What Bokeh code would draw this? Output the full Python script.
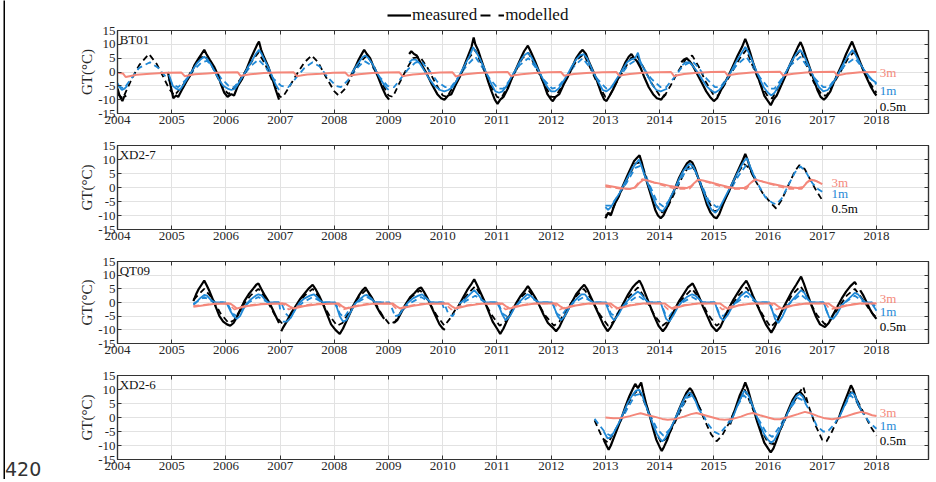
import math
from bokeh.plotting import figure
from bokeh.models import Range1d, FixedTicker, LinearAxis, Label, Legend, LegendItem, Spacer, Div
from bokeh.layouts import column, row
from bokeh.embed import file_html
from bokeh.resources import INLINE

GAP = None
YEARS = list(range(2004, 2019))
YEAR_LABELS = [str(y) for y in YEARS]
YTICKS = [-15, -10, -5, 0, 5, 10, 15]
YTICK_LABELS = ["-15", "-10", "-5", "0", "5", "10", "15"]
SITES = ["BT01", "XD2-7", "QT09", "XD2-6"]
DEPTHS = ["3m", "1m", "0.5m"]
LEGEND_LABELS = ["measured", "modelled"]
PAGE_NOTE = "420"

# ---------------- BT01 ----------------
BT01_MEAS_05 = [(2004.00,-6),(2004.03,-8),(2004.06,-9.5),(2004.09,-10.5),(2004.12,-9),(2004.16,-8.5),GAP,
 (2004.93,0),(2004.98,-5),(2005.03,-9.5),(2005.08,-8.5),(2005.12,-9),(2005.2,-6),(2005.27,-3.5),(2005.35,-1),(2005.42,2.5),(2005.5,5),(2005.55,6.5),(2005.6,8),(2005.64,6.5),(2005.7,4.5),(2005.78,2),(2005.85,-1),(2005.92,-5),(2005.97,-7.5),(2006.03,-9),(2006.1,-8),(2006.15,-8.5),(2006.22,-5),(2006.3,-2.5),(2006.38,1),(2006.45,4.5),(2006.52,7.5),(2006.58,10),(2006.61,11),(2006.65,8),(2006.7,5.5),(2006.78,2),(2006.85,-2),(2006.92,-6.5),(2006.98,-10),GAP,
 (2008.3,-1.5),(2008.38,1.5),(2008.45,4.5),(2008.52,7),(2008.55,8),(2008.6,6.5),(2008.66,5),(2008.73,1.5),(2008.8,-1.5),(2008.88,-5.5),(2008.95,-8.5),(2009.01,-10),GAP,
 (2009.38,6.5),(2009.42,7.5),(2009.47,6.5),(2009.52,6),(2009.6,3),(2009.7,-0.5),(2009.8,-4.5),(2009.9,-8),(2009.97,-9.5),(2010.03,-10),(2010.1,-8.5),(2010.16,-8),(2010.23,-5),(2010.32,-1.5),(2010.4,2.5),(2010.47,6),(2010.53,9),(2010.57,12.5),(2010.6,10),(2010.65,8),(2010.7,5),(2010.77,1),(2010.83,-3),(2010.9,-7),(2010.96,-10),(2011.01,-11.5),(2011.06,-10),(2011.12,-9),(2011.2,-6),(2011.28,-2),(2011.36,1.5),(2011.44,5),(2011.5,7.5),(2011.57,9.5),(2011.62,7.5),(2011.7,4),(2011.78,0),(2011.86,-4),(2011.93,-8),(2012.0,-10),(2012.03,-10.5),(2012.08,-9),(2012.15,-8),(2012.23,-4.5),(2012.3,-2),(2012.38,1.5),(2012.46,5),(2012.53,7),(2012.58,8),(2012.64,6.5),(2012.7,3.5),(2012.78,0),(2012.85,-3.5),(2012.92,-7.5),(2012.98,-10),(2013.02,-10.5),(2013.08,-8.5),(2013.15,-6),(2013.22,-3),(2013.3,0.5),(2013.37,3.5),(2013.43,5.5),(2013.48,6.5),(2013.53,5),(2013.58,4),(2013.65,1.5),(2013.72,-2),(2013.8,-5.5),(2013.88,-8),(2013.95,-9.5),(2014.03,-10),(2014.08,-8.5),(2014.12,-8),GAP,
 (2014.4,3.5),(2014.45,4.5),(2014.5,5),(2014.55,4),(2014.62,2),(2014.7,-1),(2014.78,-4),(2014.86,-7),(2014.93,-9),(2015.0,-10.5),(2015.06,-9.5),(2015.12,-7),(2015.2,-4),(2015.28,-1),(2015.36,2.5),(2015.44,6),(2015.52,9),(2015.58,12),(2015.62,10),(2015.67,7),(2015.73,3),(2015.8,-1),(2015.87,-5),(2015.93,-8.5),(2016.0,-10.5),(2016.05,-12),(2016.1,-10),(2016.16,-8.5),(2016.24,-5),(2016.32,-1.5),(2016.4,2.5),(2016.48,6),(2016.55,9),(2016.6,10.8),(2016.64,9),(2016.7,5.5),(2016.77,1.5),(2016.84,-2.5),(2016.91,-6.5),(2016.97,-9),(2017.03,-10),(2017.08,-9),(2017.15,-7),(2017.22,-3.5),(2017.3,0),(2017.37,3),(2017.44,6.5),(2017.5,9),(2017.55,11),(2017.59,9),(2017.64,6.5),(2017.7,3.5),(2017.77,0),(2017.84,-3),(2017.9,-5.5),(2017.96,-7.5),(2018.0,-8.5)]

BT01_MEAS_1 = [(2004.0,-4),(2004.04,-5.5),(2004.08,-6.5),(2004.13,-6),(2004.18,-5),GAP,
 (2004.95,-1),(2005.02,-5),(2005.08,-6),(2005.15,-6.5),(2005.22,-4.5),(2005.3,-2),(2005.38,0.5),(2005.46,3),(2005.53,4.5),(2005.6,5.5),(2005.66,4.5),(2005.73,2.5),(2005.8,0),(2005.88,-3),(2005.95,-5),(2006.03,-6),(2006.1,-6.5),(2006.17,-6),(2006.25,-3.5),(2006.33,-1),(2006.4,1.5),(2006.48,4),(2006.55,6.5),(2006.61,8),(2006.66,6.5),(2006.72,4),(2006.8,1),(2006.87,-2.5),(2006.93,-5),(2006.98,-6.5),GAP,
 (2008.32,-0.5),(2008.4,2),(2008.47,4),(2008.53,5.5),(2008.57,6),(2008.63,5),(2008.7,3),(2008.78,0),(2008.85,-2.5),(2008.93,-5),(2009.0,-6.5),GAP,
 (2009.38,3.5),(2009.44,4.5),(2009.5,4.5),(2009.58,3),(2009.66,0.5),(2009.75,-2.5),(2009.85,-5),(2009.95,-6.5),(2010.03,-7),(2010.1,-6.5),(2010.18,-5.5),(2010.26,-3),(2010.34,0),(2010.42,3),(2010.5,6),(2010.56,9),(2010.62,7),(2010.68,5),(2010.75,2),(2010.83,-1.5),(2010.9,-4.5),(2010.97,-7),(2011.04,-7.5),(2011.1,-7),(2011.18,-5),(2011.26,-2),(2011.35,1),(2011.43,4),(2011.5,6),(2011.57,7),(2011.63,5.5),(2011.7,3),(2011.78,0),(2011.86,-3),(2011.93,-5.5),(2012.0,-7),(2012.07,-7),(2012.14,-6),(2012.22,-3.5),(2012.3,-1),(2012.38,2),(2012.46,4.5),(2012.53,6),(2012.6,6.5),(2012.66,5),(2012.73,2),(2012.8,-1),(2012.88,-4),(2012.95,-6.5),(2013.02,-7),(2013.09,-6),(2013.16,-4),(2013.24,-1.5),(2013.32,1),(2013.4,3.5),(2013.47,4.5),(2013.55,5),(2013.6,7),(2013.64,4),(2013.7,1.5),(2013.78,-1.5),(2013.86,-4.5),(2013.94,-6.5),(2014.02,-7),(2014.08,-6.5),(2014.14,-6),GAP,
 (2014.42,2.5),(2014.48,3.5),(2014.55,3.5),(2014.62,2),(2014.7,0),(2014.78,-2.5),(2014.86,-5),(2014.94,-6.5),(2015.02,-7.5),(2015.1,-6.5),(2015.18,-4.5),(2015.26,-2),(2015.34,1),(2015.42,4),(2015.5,6.5),(2015.58,9),(2015.63,7.5),(2015.7,4.5),(2015.77,1),(2015.85,-2.5),(2015.92,-5.5),(2016.0,-7.5),(2016.06,-8.5),(2016.12,-7.5),(2016.2,-5),(2016.28,-2),(2016.36,1),(2016.44,4),(2016.52,6.5),(2016.59,8),(2016.65,6.5),(2016.72,3.5),(2016.8,0),(2016.87,-3),(2016.94,-5.5),(2017.02,-7),(2017.1,-6.5),(2017.18,-4.5),(2017.26,-2),(2017.34,1),(2017.42,4),(2017.5,6.5),(2017.56,8),(2017.62,6),(2017.7,3),(2017.78,0.5),(2017.86,-1.5),(2017.93,-3),(2018.0,-4)]

BT01_MEAS_3 = [(2004.0,-0.3),(2004.1,-0.5),(2004.15,-1.8),(2004.22,-1.5),(2004.35,-1.0),(2004.6,-0.6),(2004.9,-0.3),
 (2005.18,-0.2),(2005.24,-1.5),(2005.3,-1.3),(2005.42,-0.8),(2005.65,-0.5),(2005.9,-0.2),
 (2006.22,-0.1),(2006.27,-1.4),(2006.33,-1.2),(2006.45,-0.8),(2006.7,-0.4),(2006.95,-0.2),
 (2007.25,-0.1),(2007.31,-1.5),(2007.38,-1.3),(2007.5,-0.9),(2007.75,-0.6),(2007.98,-0.3),
 (2008.2,-0.2),(2008.26,-1.4),(2008.32,-1.2),(2008.45,-0.8),(2008.7,-0.4),(2008.95,-0.2),
 (2009.2,-0.1),(2009.26,-1.5),(2009.33,-1.3),(2009.45,-0.9),(2009.7,-0.5),(2009.95,-0.2),
 (2010.18,-0.1),(2010.24,-1.6),(2010.3,-1.3),(2010.42,-0.8),(2010.65,-0.4),(2010.95,-0.1),
 (2011.2,0),(2011.26,-1.5),(2011.32,-1.2),(2011.45,-0.8),(2011.7,-0.4),(2011.95,-0.1),
 (2012.18,0),(2012.24,-1.4),(2012.3,-1.1),(2012.42,-0.7),(2012.65,-0.4),(2012.95,-0.1),
 (2013.2,0),(2013.26,-1.4),(2013.32,-1.1),(2013.45,-0.7),(2013.7,-0.3),(2013.95,-0.1),
 (2014.21,0),(2014.27,-1.6),(2014.33,-1.2),(2014.45,-0.7),(2014.7,-0.3),(2014.95,0),
 (2015.2,0.1),(2015.26,-1.3),(2015.32,-1.0),(2015.45,-0.6),(2015.7,-0.2),(2015.95,0),
 (2016.22,0.1),(2016.28,-1.3),(2016.34,-1.0),(2016.47,-0.6),(2016.7,-0.2),(2016.95,0),
 (2017.22,0.1),(2017.28,-1.3),(2017.34,-1.0),(2017.47,-0.5),(2017.7,-0.1),(2018.0,0)]

BT01_MOD_05 = [(2004.0,-8),(2004.1,-9.5),(2004.25,-3),(2004.4,2.5),(2004.58,6.5),(2004.72,3),(2004.85,-2),(2004.95,-6),(2005.05,-8.5),(2005.2,-5),(2005.35,0),(2005.5,4.5),(2005.6,6),(2005.72,3),(2005.85,-2),(2005.95,-6),(2006.05,-8),(2006.2,-4.5),(2006.35,0),(2006.5,4.5),(2006.6,7),(2006.72,3),(2006.85,-3),(2007.0,-9),(2007.05,-9),(2007.15,-6),(2007.3,-1),(2007.45,3.5),(2007.58,6),(2007.7,3.5),(2007.85,-2),(2008.0,-7),(2008.08,-8.5),(2008.2,-6),(2008.33,-1),(2008.47,3.5),(2008.6,6),(2008.72,2.5),(2008.85,-3),(2009.0,-8.5),(2009.08,-9),(2009.2,-4),(2009.33,1),(2009.45,5),(2009.58,5.5),(2009.72,1.5),(2009.85,-3.5),(2010.0,-8.5),(2010.08,-9),(2010.2,-5),(2010.35,0),(2010.48,5),(2010.6,8),(2010.72,2.5),(2010.85,-3.5),(2011.0,-9),(2011.08,-9.5),(2011.2,-5),(2011.35,0.5),(2011.47,5),(2011.58,7),(2011.72,1.5),(2011.85,-3.5),(2012.0,-9),(2012.08,-9),(2012.2,-5),(2012.35,0),(2012.48,4.5),(2012.6,6.5),(2012.72,1.5),(2012.85,-4),(2013.0,-9),(2013.08,-8.5),(2013.2,-4),(2013.35,1),(2013.47,5),(2013.58,6),(2013.72,1),(2013.85,-4),(2014.0,-8.5),(2014.08,-9),(2014.2,-5),(2014.35,0.5),(2014.48,4.5),(2014.6,6),(2014.72,2),(2014.85,-3.5),(2015.0,-8.5),(2015.08,-8.5),(2015.2,-4.5),(2015.35,0.5),(2015.48,5),(2015.6,8),(2015.72,2),(2015.85,-4),(2016.0,-9),(2016.08,-9.5),(2016.2,-5),(2016.35,0.5),(2016.48,5),(2016.6,8),(2016.72,2),(2016.85,-4),(2017.0,-8.5),(2017.08,-8.5),(2017.2,-4.5),(2017.35,0.5),(2017.48,5),(2017.6,7.5),(2017.72,2.5),(2017.85,-3),(2018.0,-7.5)]

BT01_MOD_1 = [(2004.0,-5),(2004.12,-6),(2004.25,-2.5),(2004.4,1.5),(2004.6,3.5),(2004.75,1.5),(2004.88,-1.5),(2005.02,-4.5),(2005.12,-5.5),(2005.25,-3),(2005.4,0.5),(2005.55,3.5),(2005.65,4),(2005.78,1.5),(2005.9,-2),(2006.05,-5),(2006.15,-5.5),(2006.3,-2),(2006.45,2),(2006.6,4.5),(2006.72,2),(2006.88,-2.5),(2007.02,-5),(2007.15,-5.5),(2007.3,-2),(2007.45,1.5),(2007.6,3.5),(2007.73,2),(2007.88,-2),(2008.03,-5),(2008.12,-5.5),(2008.25,-3),(2008.4,1),(2008.55,4),(2008.68,2.5),(2008.82,-1.5),(2008.98,-5),(2009.1,-5.5),(2009.22,-2.5),(2009.36,1),(2009.5,3.5),(2009.62,3.5),(2009.75,0.5),(2009.9,-3.5),(2010.05,-5.5),(2010.15,-5.5),(2010.3,-1.5),(2010.45,2.5),(2010.6,5.5),(2010.72,2),(2010.87,-2.5),(2011.02,-6),(2011.12,-6),(2011.27,-2),(2011.42,2.5),(2011.58,5),(2011.7,2),(2011.85,-2.5),(2012.02,-6),(2012.12,-5.5),(2012.27,-2),(2012.42,2),(2012.58,5),(2012.7,2),(2012.85,-2.5),(2013.02,-6),(2013.12,-5.5),(2013.27,-1.5),(2013.42,2.5),(2013.58,4.5),(2013.7,1.5),(2013.85,-2.5),(2014.02,-5.5),(2014.12,-5.5),(2014.27,-2),(2014.42,2),(2014.6,4),(2014.72,1.5),(2014.87,-2.5),(2015.02,-5.5),(2015.12,-5.5),(2015.27,-1.5),(2015.42,2.5),(2015.6,5.5),(2015.72,2),(2015.87,-2.5),(2016.02,-6),(2016.12,-6),(2016.27,-2),(2016.42,2.5),(2016.6,5.5),(2016.72,2),(2016.87,-2.5),(2017.02,-5.5),(2017.12,-5.5),(2017.27,-1.5),(2017.42,2.5),(2017.6,5),(2017.72,2),(2017.87,-2),(2018.0,-4.5)]

# ---------------- XD2-7 ----------------
XD27_MEAS_05 = [(2013.0,-11),(2013.05,-9),(2013.1,-10),(2013.17,-6),(2013.25,-3),(2013.32,0.5),(2013.4,4),(2013.47,7),(2013.53,9.5),(2013.58,10.5),(2013.63,11.5),(2013.67,9),(2013.72,5),(2013.78,1),(2013.85,-3.5),(2013.92,-8),(2013.97,-10),(2014.02,-11),(2014.07,-10),(2014.13,-7.5),(2014.2,-4),(2014.28,-0.5),(2014.36,3.5),(2014.44,6.5),(2014.5,8.5),(2014.56,9.5),(2014.6,9),(2014.65,7),(2014.72,3),(2014.8,-1.5),(2014.87,-6),(2014.94,-9),(2015.0,-10.5),(2015.05,-11),(2015.1,-9.5),(2015.17,-6),(2015.25,-2.5),(2015.33,1),(2015.41,4.5),(2015.48,7.5),(2015.54,10),(2015.58,12),(2015.62,10),(2015.67,7),(2015.72,4.5),(2015.76,3)]
XD27_MEAS_1 = [(2013.0,-7),(2013.05,-8),(2013.1,-7),(2013.18,-4.5),(2013.26,-2),(2013.34,1),(2013.42,4),(2013.5,7),(2013.56,8.5),(2013.62,10),(2013.66,8),(2013.72,4.5),(2013.8,0.5),(2013.87,-3),(2013.94,-6.5),(2014.0,-8),(2014.06,-8.5),(2014.13,-6.5),(2014.2,-3.5),(2014.28,-0.5),(2014.36,3),(2014.44,6),(2014.5,7.5),(2014.56,8.5),(2014.62,7.5),(2014.68,5),(2014.75,1.5),(2014.83,-2.5),(2014.9,-6),(2014.96,-8),(2015.03,-9),(2015.1,-7.5),(2015.18,-4.5),(2015.26,-1.5),(2015.34,1.5),(2015.42,4.5),(2015.5,7.5),(2015.56,9.5),(2015.61,10.5),(2015.66,8),(2015.72,5),(2015.77,3)]
XD27_MEAS_3 = [(2013.0,0.8),(2013.15,0.3),(2013.3,-0.3),(2013.45,-0.5),(2013.55,0),(2013.62,1.5),(2013.7,2.8),(2013.78,2.5),(2013.9,1.8),(2014.05,1.2),(2014.2,0.5),(2014.35,0),(2014.5,-0.2),(2014.58,0.5),(2014.65,1.8),(2014.72,2.8),(2014.8,2.5),(2014.95,1.8),(2015.1,1),(2015.25,0.3),(2015.4,-0.3),(2015.55,-0.2),(2015.62,0.5),(2015.7,2),(2015.78,2.8),(2015.88,2.2),(2016.0,1.6),(2016.15,1),(2016.3,0.4),(2016.45,0),(2016.55,-0.2),(2016.65,0.2),(2016.72,1.8),(2016.8,2.8),(2016.88,2.4),(2017.0,1.2)]
XD27_MOD_05 = [(2013.0,-10),(2013.1,-9),(2013.25,-3),(2013.4,3),(2013.55,8.5),(2013.65,9),(2013.78,2),(2013.92,-6),(2014.05,-9),(2014.15,-7),(2014.3,-1),(2014.45,5),(2014.58,8.5),(2014.7,4),(2014.85,-3),(2015.0,-8.5),(2015.1,-8),(2015.25,-2.5),(2015.4,3.5),(2015.55,8.5),(2015.65,7),(2015.78,2),(2015.9,-2),(2016.05,-5.5),(2016.15,-7.5),(2016.25,-4.5),(2016.38,1),(2016.5,6),(2016.58,8),(2016.68,6.5),(2016.8,2),(2016.9,-1.5),(2017.0,-4.5)]
XD27_MOD_1 = [(2013.0,-6.5),(2013.1,-6.5),(2013.25,-2.5),(2013.4,2),(2013.55,7),(2013.68,8),(2013.8,1.5),(2013.95,-5),(2014.08,-7),(2014.2,-4),(2014.35,1.5),(2014.5,6.5),(2014.63,7),(2014.75,2),(2014.9,-4.5),(2015.05,-7),(2015.15,-6),(2015.3,-1),(2015.45,4),(2015.6,8),(2015.7,6),(2015.82,1),(2015.95,-3.5),(2016.08,-5.5),(2016.15,-6),(2016.25,-4),(2016.38,1),(2016.5,5.5),(2016.6,7.5),(2016.7,5.5),(2016.82,1.5),(2016.92,-0.5),(2017.0,-1.5)]
XD27_MOD_3 = [(2013.0,0.3),(2013.3,-0.5),(2013.52,-0.5),(2013.6,1.5),(2013.68,3),(2013.85,2),(2014.1,0.5),(2014.3,-0.5),(2014.55,-0.5),(2014.62,1),(2014.7,2.8),(2014.9,1.8),(2015.15,0.3),(2015.35,-0.5),(2015.6,-0.5),(2015.68,1.5),(2015.76,3),(2015.95,1.8),(2016.2,0.3),(2016.4,-0.5),(2016.62,-0.5),(2016.7,1.5),(2016.78,3),(2016.9,2.2),(2017.0,1.5)]

# ---------------- QT09 ----------------
QT09_MEAS_05 = [(2005.4,0.5),(2005.45,3),(2005.5,5),(2005.55,6.5),(2005.6,8),(2005.64,6.5),(2005.7,4),(2005.76,1),(2005.82,-2),(2005.88,-5),(2005.95,-7),(2006.02,-8),(2006.08,-8.5),(2006.14,-7.5),(2006.2,-5.5),(2006.27,-2.5),(2006.34,0.5),(2006.42,3),(2006.5,5),(2006.56,6.5),(2006.6,7),(2006.65,5),(2006.72,2.5),(2006.8,0),(2006.86,-2.5),(2006.92,-5),(2006.98,-7.5),GAP,
 (2007.02,-10.5),(2007.06,-9),(2007.12,-7),(2007.2,-4),(2007.28,-1.5),(2007.36,1),(2007.44,3),(2007.52,5),(2007.6,6.5),(2007.65,5),(2007.72,2.5),(2007.8,-1),(2007.87,-4.5),(2007.94,-8),(2008.02,-10),(2008.1,-11.5),(2008.16,-9.5),(2008.23,-6.5),(2008.3,-3.5),(2008.38,0),(2008.45,2.5),(2008.52,4.5),(2008.57,5.5),(2008.62,4),(2008.7,1.5),(2008.78,-1.5),(2008.85,-4),(2008.92,-6),GAP,
 (2009.1,-7.5),(2009.16,-6.5),(2009.24,-3.5),(2009.32,-0.5),(2009.4,2),(2009.48,3.5),(2009.55,5),(2009.6,5.5),(2009.65,4),(2009.72,1.5),(2009.8,-2),(2009.87,-5),(2009.94,-8),(2010.0,-9.5),(2010.04,-10),GAP,
 (2010.3,-1),(2010.38,2),(2010.45,4.5),(2010.52,6.5),(2010.58,8.5),(2010.63,6.5),(2010.7,3.5),(2010.78,0),(2010.85,-3.5),(2010.92,-7),(2011.0,-9.5),(2011.06,-11.5),(2011.12,-9.5),(2011.2,-6),(2011.28,-3),(2011.36,0),(2011.44,2.5),(2011.52,4.5),(2011.57,6),(2011.62,4.5),(2011.7,2),(2011.78,-1),(2011.86,-4.5),(2011.94,-7.5),(2012.02,-9),(2012.09,-10.5),(2012.15,-9),(2012.22,-6),(2012.3,-3),(2012.38,0),(2012.46,3),(2012.54,5),(2012.61,6.5),(2012.66,5),(2012.73,2),(2012.8,-1),(2012.88,-4.5),(2012.96,-8),(2013.04,-10.5),(2013.1,-9),(2013.18,-6),(2013.26,-3),(2013.34,0),(2013.42,3),(2013.5,5.5),(2013.57,7),(2013.63,8),(2013.68,6),(2013.75,2.5),(2013.83,-1.5),(2013.9,-5),(2013.98,-8.5),(2014.06,-10.5),(2014.12,-9),(2014.2,-6),(2014.28,-2.5),(2014.36,0.5),(2014.44,3),(2014.52,5.5),(2014.61,7),(2014.66,5),(2014.73,2),(2014.8,-1.5),(2014.88,-5),(2014.96,-8.5),(2015.05,-10.5),(2015.12,-9),(2015.2,-5.5),(2015.28,-2),(2015.36,1),(2015.44,3.5),(2015.52,6),(2015.6,8),(2015.65,6),(2015.72,2.5),(2015.8,-1),(2015.88,-4.5),(2015.96,-8),(2016.06,-11),(2016.12,-9),(2016.2,-5.5),(2016.28,-2),(2016.36,1),(2016.44,4),(2016.52,6.5),(2016.61,9.5),(2016.66,7),(2016.73,3),(2016.8,-1),(2016.88,-5),(2016.96,-8),(2017.05,-9),(2017.12,-7.5),(2017.2,-4.5),(2017.28,-1.5),(2017.36,1.5),(2017.44,4),(2017.52,6),(2017.6,7.5),(2017.63,6.5),GAP,
 (2017.7,4.5),(2017.76,2.5),(2017.82,0),(2017.88,-2.5),(2017.94,-4.5),(2018.0,-6)]
QT09_MEAS_1 = [(2005.4,-0.8),(2005.45,0),(2005.52,1.5),(2005.6,2.8),(2005.65,2.5),(2005.72,1),(2005.8,0),(2005.95,0),(2006.02,-0.5),(2006.08,-3),(2006.14,-5),(2006.2,-6),(2006.26,-5),(2006.32,-2.5),(2006.38,-0.5),(2006.45,1),(2006.55,2.5),(2006.6,3),(2006.66,2.5),(2006.72,1),(2006.78,0),(2006.98,0),(2007.0,-2.5),GAP,
 (2007.05,-7),(2007.12,-7),(2007.2,-5.5),(2007.28,-2.5),(2007.36,0),(2007.45,1.5),(2007.55,2.5),(2007.62,3),(2007.68,2),(2007.75,0.5),(2007.8,0),(2008.0,0),(2008.05,-2),(2008.1,-5),(2008.16,-7),(2008.22,-6.5),(2008.3,-3.5),(2008.38,-0.5),(2008.46,1),(2008.55,2.5),(2008.6,2.8),(2008.68,1.5),(2008.75,0),(2008.92,0),GAP,
 (2009.12,-5),(2009.2,-4.5),(2009.28,-2),(2009.36,0),(2009.45,1.5),(2009.55,2.5),(2009.62,3),(2009.7,1.5),(2009.78,0),(2009.98,0),(2010.02,-2),GAP,
 (2010.3,-0.5),(2010.4,1),(2010.5,3),(2010.58,4.5),(2010.65,3),(2010.72,1),(2010.8,0),(2011.0,0),(2011.05,-2),(2011.1,-4.5),(2011.16,-6.5),(2011.24,-5),(2011.32,-2),(2011.4,0),(2011.48,1.5),(2011.56,3),(2011.62,2.5),(2011.7,1),(2011.78,0),(2012.02,0),(2012.06,-2),(2012.12,-5),(2012.18,-6.5),(2012.25,-5),(2012.33,-2),(2012.4,0),(2012.48,1.5),(2012.56,3),(2012.62,3),(2012.7,1),(2012.78,0),(2013.0,0),(2013.04,-2),(2013.1,-5),(2013.16,-6.5),(2013.24,-4.5),(2013.32,-1.5),(2013.4,0.5),(2013.5,2.5),(2013.6,4),(2013.66,3),(2013.74,1),(2013.8,0),(2014.02,0),(2014.06,-2.5),(2014.12,-6),(2014.18,-7),(2014.26,-4.5),(2014.34,-1.5),(2014.42,0.5),(2014.5,2),(2014.6,3),(2014.66,2.5),(2014.74,1),(2014.8,0),(2015.02,0),(2015.06,-2.5),(2015.12,-5.5),(2015.18,-6.5),(2015.26,-4.5),(2015.34,-1.5),(2015.42,0.5),(2015.5,2.5),(2015.6,4),(2015.66,3),(2015.74,1),(2015.8,0),(2016.03,0),(2016.07,-2.5),(2016.13,-6),(2016.19,-7.5),(2016.27,-5),(2016.35,-1.5),(2016.43,0.5),(2016.52,2.5),(2016.61,4.5),(2016.67,3.5),(2016.74,1),(2016.8,0),(2017.03,0),(2017.07,-2.5),(2017.13,-5.5),(2017.2,-6),(2017.28,-4),(2017.36,-1),(2017.44,0.5),(2017.52,2),(2017.6,3.5),(2017.66,3),(2017.74,1),(2017.8,0),(2017.9,0),(2017.95,-1.5),(2018.0,-3)]
QT09_MEAS_3 = [(2005.4,-1.6),(2005.6,-1),(2005.8,-0.5),(2006.08,-0.4),(2006.14,-1.2),(2006.2,-2.2),(2006.4,-1.3),(2006.65,-0.6),(2006.95,-0.4),(2007.1,-0.5),(2007.18,-1.5),(2007.25,-2.2),(2007.45,-1.3),(2007.7,-0.6),(2008.08,-0.4),(2008.14,-1.3),(2008.22,-2.2),(2008.45,-1.2),(2008.7,-0.5),(2009.08,-0.4),(2009.14,-1.3),(2009.22,-2.2),(2009.45,-1.2),(2009.7,-0.5),(2010.1,-0.4),(2010.16,-1.3),(2010.24,-2.2),(2010.45,-1.2),(2010.7,-0.5),(2011.1,-0.4),(2011.16,-1.3),(2011.24,-2.2),(2011.45,-1.1),(2011.7,-0.4),(2012.1,-0.4),(2012.16,-1.3),(2012.24,-2.2),(2012.45,-1.1),(2012.7,-0.4),(2013.1,-0.4),(2013.16,-1.3),(2013.24,-2.2),(2013.45,-1.1),(2013.7,-0.4),(2014.1,-0.4),(2014.16,-1.3),(2014.24,-2.3),(2014.45,-1.1),(2014.7,-0.4),(2015.12,-0.4),(2015.18,-1.3),(2015.26,-2.3),(2015.45,-1.1),(2015.7,-0.4),(2016.12,-0.4),(2016.18,-1.3),(2016.26,-2.3),(2016.45,-1.1),(2016.7,-0.4),(2017.12,-0.4),(2017.18,-1.3),(2017.26,-2.2),(2017.45,-1.1),(2017.7,-0.4),(2018.0,-0.4)]
QT09_MOD_05 = [(2005.4,1),(2005.6,5),(2005.75,1.5),(2005.9,-4),(2006.05,-7.5),(2006.15,-6.5),(2006.3,-1.5),(2006.45,2.5),(2006.6,5),(2006.75,1),(2006.9,-4.5),(2007.05,-8),(2007.15,-6.5),(2007.3,-1.5),(2007.45,2.5),(2007.6,5),(2007.75,1),(2007.9,-4.5),(2008.05,-8.5),(2008.15,-7.5),(2008.3,-2.5),(2008.45,2),(2008.58,4.5),(2008.72,1),(2008.88,-4.5),(2009.02,-8),(2009.12,-7),(2009.27,-2),(2009.42,2),(2009.58,4.5),(2009.72,1),(2009.88,-4.5),(2010.03,-8.5),(2010.13,-6),(2010.22,-3),(2010.35,0.5),(2010.5,4),(2010.6,6),(2010.75,1),(2010.9,-4.5),(2011.05,-8.5),(2011.15,-7),(2011.3,-2),(2011.45,2),(2011.58,4.5),(2011.72,1),(2011.88,-4.5),(2012.05,-8.5),(2012.15,-7),(2012.3,-2),(2012.45,2),(2012.6,5),(2012.75,1),(2012.9,-4.5),(2013.05,-8.5),(2013.15,-7),(2013.3,-2),(2013.45,2.5),(2013.6,5.5),(2013.75,1),(2013.9,-4.5),(2014.05,-8.5),(2014.15,-7),(2014.3,-2),(2014.45,2),(2014.6,5),(2014.75,1),(2014.9,-4.5),(2015.05,-8.5),(2015.15,-7),(2015.3,-2),(2015.45,2.5),(2015.6,5.5),(2015.75,1),(2015.9,-4.5),(2016.05,-9),(2016.15,-7),(2016.3,-2),(2016.45,3),(2016.6,6),(2016.75,1),(2016.9,-4.5),(2017.05,-8),(2017.15,-6.5),(2017.3,-2),(2017.45,2.5),(2017.6,5),(2017.75,1),(2017.9,-3.5),(2018.0,-5.5)]
QT09_MOD_1 = [(2005.4,-0.5),(2005.6,2),(2005.78,0),(2006.02,0),(2006.12,-4),(2006.2,-5),(2006.32,-2),(2006.42,0),(2006.6,2),(2006.78,0),(2007.02,0),(2007.1,-4),(2007.18,-5.5),(2007.3,-2),(2007.42,0),(2007.6,2),(2007.78,0),(2008.02,0),(2008.1,-4),(2008.18,-5.5),(2008.3,-2),(2008.42,0),(2008.6,2),(2008.78,0),(2009.02,0),(2009.1,-4),(2009.18,-5),(2009.3,-2),(2009.42,0),(2009.6,2),(2009.78,0),(2010.02,0),(2010.1,-4),(2010.18,-5),(2010.3,-1.5),(2010.42,0.5),(2010.6,2.5),(2010.78,0),(2011.02,0),(2011.1,-4),(2011.18,-5),(2011.3,-2),(2011.42,0),(2011.6,2),(2011.78,0),(2012.02,0),(2012.1,-4),(2012.18,-5),(2012.3,-2),(2012.42,0),(2012.6,2),(2012.78,0),(2013.02,0),(2013.1,-4),(2013.18,-5),(2013.3,-2),(2013.42,0),(2013.6,2.5),(2013.78,0),(2014.02,0),(2014.1,-4),(2014.18,-5),(2014.3,-2),(2014.42,0),(2014.6,2),(2014.78,0),(2015.02,0),(2015.1,-4),(2015.18,-5),(2015.3,-2),(2015.42,0),(2015.6,2.5),(2015.78,0),(2016.02,0),(2016.1,-4),(2016.18,-5.5),(2016.3,-2),(2016.42,0),(2016.6,3),(2016.78,0),(2017.02,0),(2017.1,-4),(2017.18,-5),(2017.3,-2),(2017.42,0),(2017.6,2.5),(2017.78,0),(2017.92,0),(2018.0,-2)]
QT09_MOD_3 = [(2005.4,-1.2),(2005.8,-0.4),(2006.05,-0.3),(2006.1,-1.5),(2006.16,-2.6),(2006.3,-1.5),(2006.6,-0.5),(2007.05,-0.3),(2007.1,-1.5),(2007.16,-2.6),(2007.3,-1.5),(2007.6,-0.5),(2008.05,-0.3),(2008.1,-1.5),(2008.16,-2.6),(2008.3,-1.5),(2008.6,-0.5),(2009.05,-0.3),(2009.1,-1.5),(2009.16,-2.6),(2009.3,-1.5),(2009.6,-0.5),(2010.05,-0.3),(2010.1,-1.5),(2010.16,-2.6),(2010.3,-1.5),(2010.6,-0.5),(2011.05,-0.3),(2011.1,-1.5),(2011.16,-2.6),(2011.3,-1.5),(2011.6,-0.5),(2012.05,-0.3),(2012.1,-1.5),(2012.16,-2.6),(2012.3,-1.5),(2012.6,-0.5),(2013.05,-0.3),(2013.1,-1.5),(2013.16,-2.6),(2013.3,-1.5),(2013.6,-0.5),(2014.05,-0.3),(2014.1,-1.5),(2014.16,-2.6),(2014.3,-1.5),(2014.6,-0.5),(2015.05,-0.3),(2015.1,-1.5),(2015.16,-2.6),(2015.3,-1.5),(2015.6,-0.5),(2016.05,-0.3),(2016.1,-1.5),(2016.16,-2.6),(2016.3,-1.5),(2016.6,-0.5),(2017.05,-0.3),(2017.1,-1.5),(2017.16,-2.6),(2017.3,-1.5),(2017.6,-0.5),(2018.0,-0.3)]

# ---------------- XD2-6 ----------------
XD26_MEAS_05 = [(2012.97,-8),(2013.02,-10),(2013.06,-11.5),(2013.1,-10),(2013.16,-7),(2013.23,-3.5),(2013.3,0),(2013.37,4),(2013.44,7.5),(2013.5,10),(2013.55,12),(2013.6,10.5),(2013.66,12.5),(2013.7,9),(2013.75,5),(2013.82,0.5),(2013.88,-4),(2013.94,-8),(2014.0,-10.5),(2014.04,-12),(2014.08,-10.5),(2014.14,-8),(2014.2,-4.5),(2014.28,-1),(2014.36,3),(2014.44,6.5),(2014.5,9),(2014.56,10.5),(2014.6,9.5),(2014.66,7),(2014.72,4),(2014.76,2.5),GAP,
 (2015.3,-2.5),(2015.36,1),(2015.42,4.5),(2015.48,8),(2015.54,10.5),(2015.58,12.5),(2015.63,10),(2015.68,6.5),(2015.74,2.5),(2015.8,-1.5),(2015.87,-5.5),(2015.93,-9),(2016.0,-11),(2016.05,-12.5),(2016.1,-11),(2016.16,-8),(2016.22,-4.5),(2016.3,-1),(2016.38,3),(2016.46,6.5),(2016.53,8.5),(2016.6,9),(2016.66,7.5),(2016.7,5.5),GAP,
 (2017.3,-0.5),(2017.36,3),(2017.42,6),(2017.48,9),(2017.53,11.5),(2017.57,10),(2017.62,7),(2017.68,4),(2017.73,2.5)]
XD26_MEAS_1 = [(2012.97,-5),(2013.04,-7.5),(2013.1,-7),(2013.18,-4.5),(2013.26,-1.5),(2013.34,2),(2013.42,5.5),(2013.5,8),(2013.56,9.5),(2013.62,10),(2013.67,8.5),(2013.73,5),(2013.8,1.5),(2013.87,-2),(2013.94,-5.5),(2014.0,-7.5),(2014.05,-8.5),(2014.1,-7.5),(2014.17,-5),(2014.25,-2),(2014.33,1.5),(2014.41,5),(2014.48,7.5),(2014.55,9),(2014.6,8),(2014.66,6),(2014.72,3),(2014.77,1.5),GAP,
 (2015.3,-2),(2015.37,1),(2015.44,4.5),(2015.5,7),(2015.56,9.5),(2015.6,9),(2015.65,7.5),(2015.72,4),(2015.79,0.5),(2015.86,-3),(2015.93,-6),(2016.0,-8),(2016.06,-9),(2016.12,-8),(2016.2,-5),(2016.28,-2),(2016.36,1.5),(2016.44,5),(2016.52,7.5),(2016.58,8.5),(2016.64,7.5),(2016.7,5),GAP,
 (2017.3,-0.5),(2017.37,2.5),(2017.44,5.5),(2017.5,8),(2017.55,9),(2017.6,8),(2017.66,5),(2017.72,2.5)]
XD26_MEAS_3 = [(2013.0,0),(2013.15,-0.3),(2013.3,-0.2),(2013.45,0.5),(2013.58,1.2),(2013.65,1.5),(2013.75,1),(2013.9,0.3),(2014.05,-0.5),(2014.15,-0.8),(2014.3,-0.5),(2014.45,0.3),(2014.58,1.2),(2014.68,1.6),(2014.8,1),(2014.95,0.2),(2015.1,-0.6),(2015.2,-0.8),(2015.35,-0.5),(2015.5,0.3),(2015.62,1.2),(2015.72,1.6),(2015.85,0.8),(2016.0,0),(2016.12,-0.6),(2016.22,-0.6),(2016.38,0.2),(2016.55,1.2),(2016.68,2),(2016.78,1.5),(2016.92,0.5),(2017.05,-0.3),(2017.18,-0.6),(2017.3,-0.3),(2017.45,0.5),(2017.6,1.4),(2017.72,2),(2017.82,1.5),(2017.92,0.8),(2018.0,0.5)]
XD26_MOD_05 = [(2012.8,-1),(2012.88,-4.5),(2012.95,-7.5),(2013.05,-9),(2013.2,-4),(2013.35,2),(2013.5,8),(2013.62,10),(2013.75,4),(2013.9,-4),(2014.03,-9),(2014.15,-7),(2014.3,-1),(2014.45,5),(2014.58,9),(2014.7,5),(2014.82,-0.5),(2014.95,-6),(2015.05,-8.5),(2015.15,-6.5),(2015.28,-2),(2015.42,4),(2015.57,10),(2015.7,4),(2015.85,-3.5),(2016.0,-9),(2016.1,-9.5),(2016.25,-3.5),(2016.4,3),(2016.55,8),(2016.65,11),(2016.75,4),(2016.88,-3),(2017.0,-8),(2017.08,-8.5),(2017.18,-5),(2017.3,0),(2017.45,6),(2017.55,10),(2017.65,6),(2017.78,1),(2017.9,-3.5),(2018.0,-6.5)]
XD26_MOD_1 = [(2012.8,-0.5),(2012.9,-3),(2013.0,-5.5),(2013.1,-6.5),(2013.25,-2.5),(2013.4,3),(2013.55,8),(2013.68,8.5),(2013.8,2),(2013.95,-4),(2014.07,-6.5),(2014.2,-4),(2014.35,1.5),(2014.5,7),(2014.62,8),(2014.75,3),(2014.88,-2),(2015.0,-5),(2015.1,-6),(2015.25,-2.5),(2015.4,3),(2015.55,8),(2015.68,5.5),(2015.82,-0.5),(2015.97,-5.5),(2016.08,-7),(2016.22,-3),(2016.38,2.5),(2016.55,7),(2016.66,6),(2016.78,2),(2016.9,-3),(2017.02,-5),(2017.1,-5),(2017.22,-2.5),(2017.38,3),(2017.52,8),(2017.62,6),(2017.75,1.5),(2017.88,-2),(2018.0,-4)]

# depth-label positions per panel: x (year) and y (°C)
LABEL_X = [2018.06, 2017.17, 2018.06, 2018.06]
LABEL_Y = [[-0.2, -6.7, -12.3], [1.9, -2.3, -7.6], [1.5, -3.4, -8.6], [1.9, -2.9, -8.2]]

PANELS = [
    (BT01_MEAS_05, BT01_MEAS_1, BT01_MEAS_3, BT01_MOD_05, BT01_MOD_1, None),
    (XD27_MEAS_05, XD27_MEAS_1, XD27_MEAS_3, XD27_MOD_05, XD27_MOD_1, XD27_MOD_3),
    (QT09_MEAS_05, QT09_MEAS_1, QT09_MEAS_3, QT09_MOD_05, QT09_MOD_1, QT09_MOD_3),
    (XD26_MEAS_05, XD26_MEAS_1, XD26_MEAS_3, XD26_MOD_05, XD26_MOD_1, None),
]

BLACK = "#000000"
BLUE = "#1f88d6"
SALMON = "#f4877a"
FONT = "Liberation Serif"
FRAME = "#333333"
XMAX = 2018.96
FIG_W = 925
LEFT = 112
NOTE_W = 40


def xy(pairs):
    xs, ys = [], []
    for p in pairs:
        if p is None:
            xs.append(math.nan)
            ys.append(math.nan)
        else:
            xs.append(p[0])
            ys.append(p[1])
    return xs, ys


def style_axis(ax, ticks, labels, show_labels=True):
    ax.ticker = FixedTicker(ticks=ticks)
    ax.major_tick_in = 4
    ax.major_tick_out = 0
    ax.minor_tick_in = 0
    ax.minor_tick_out = 0
    ax.axis_line_color = FRAME
    ax.axis_line_width = 1.2
    ax.major_tick_line_color = FRAME
    ax.major_label_text_font = FONT
    ax.major_label_text_color = "#262626"
    ax.major_label_text_font_size = "13px"
    if show_labels:
        ax.major_label_overrides = {t: l for t, l in zip(ticks, labels)}
        ax.major_label_standoff = 2
    else:
        ax.major_label_overrides = {t: "" for t in ticks}
        ax.major_label_standoff = 0


# legend strip on top
leg_fig = figure(width=FIG_W, height=24, x_range=Range1d(0, 1), y_range=Range1d(0, 1),
                 output_backend="svg", toolbar_location=None,
                 x_axis_location=None, y_axis_location=None, min_border=0)
leg_fig.outline_line_color = None
leg_fig.grid.visible = False
r_leg_meas = leg_fig.line([math.nan], [math.nan], line_color=BLACK, line_width=2.2)
r_leg_mod = leg_fig.line([math.nan], [math.nan], line_color=BLACK, line_width=2.2, line_dash="10 8")
leg = Legend(items=[LegendItem(label=LEGEND_LABELS[0], renderers=[r_leg_meas]),
                    LegendItem(label=LEGEND_LABELS[1], renderers=[r_leg_mod])],
             orientation="horizontal", location=(270, -1),
             label_text_font=FONT, label_text_font_size="17px", label_text_color="#111111",
             glyph_width=24, glyph_height=16, label_standoff=1, spacing=3,
             padding=0, margin=0, border_line_alpha=0, background_fill_alpha=0, label_height=16)
leg_fig.add_layout(leg, "center")

SIZES = [(109, 6, 20), (116, 12, 20), (114, 12, 20), (116, 12, 20)]

figs = [leg_fig]
for i, (site, data, (h, top, bottom)) in enumerate(zip(SITES, PANELS, SIZES)):
    w = FIG_W - NOTE_W if i == 3 else FIG_W
    left = LEFT - NOTE_W if i == 3 else LEFT
    p = figure(width=w, height=h, x_range=Range1d(2004, XMAX), y_range=Range1d(-15, 15),
               output_backend="svg", toolbar_location=None,
               min_border_left=left, min_border_right=2, min_border_top=top, min_border_bottom=bottom)
    p.outline_line_color = FRAME
    p.outline_line_width = 1.2
    style_axis(p.xaxis[0], YEARS, YEAR_LABELS)
    style_axis(p.yaxis[0], YTICKS, YTICK_LABELS)
    p.yaxis[0].axis_label = "GT(°C)"
    p.yaxis[0].axis_label_text_font = FONT
    p.yaxis[0].axis_label_text_font_size = "15px"
    p.yaxis[0].axis_label_text_font_style = "normal"
    p.yaxis[0].axis_label_text_color = "#262626"
    p.yaxis[0].axis_label_standoff = 0
    p.xgrid.ticker = FixedTicker(ticks=YEARS)
    p.ygrid.ticker = FixedTicker(ticks=YTICKS)
    p.xgrid.grid_line_color = "#e2e2e2"
    p.ygrid.grid_line_color = "#e2e2e2"

    rax = LinearAxis()
    style_axis(rax, YTICKS, YTICK_LABELS, show_labels=False)
    p.add_layout(rax, "right")
    tax = LinearAxis()
    style_axis(tax, YEARS, YEAR_LABELS, show_labels=False)
    p.add_layout(tax, "above")

    m05, m1, m3, d05, d1, d3 = data
    x, y = xy(d05)
    p.line(x, y, line_color=BLACK, line_width=1.8, line_dash="6 4")
    x, y = xy(d1)
    p.line(x, y, line_color=BLUE, line_width=1.8, line_dash="6 4")
    x, y = xy(m05)
    p.line(x, y, line_color=BLACK, line_width=2.2)
    x, y = xy(m1)
    p.line(x, y, line_color=BLUE, line_width=1.8)
    if d3 is not None:
        x, y = xy(d3)
        p.line(x, y, line_color=SALMON, line_width=1.6, line_dash="6 4")
    x, y = xy(m3)
    p.line(x, y, line_color=SALMON, line_width=2.0)

    p.add_layout(Label(x=2004.04, y=14.6, text=site, text_font=FONT, text_font_size="13px",
                       text_color="#111111", text_baseline="top", text_align="left"))
    for lab, yy, col in zip(DEPTHS, LABEL_Y[i], [SALMON, BLUE, BLACK]):
        p.add_layout(Label(x=LABEL_X[i], y=yy, text=lab, text_font=FONT, text_font_size="13px",
                           text_color=col, text_baseline="middle", text_align="left"))
    figs.append(p)

note = Div(text='<div style="position:relative;width:40px;height:116px;">'
                '<span style="position:absolute;left:0px;bottom:0px;font-family:\'DejaVu Sans\';'
                'font-size:19px;line-height:19px;color:#333333;">' + PAGE_NOTE + '</span></div>',
           width=NOTE_W, height=116, margin=(0, 0, 0, 0))
figs[-1] = row(note, figs[-1], spacing=0)

# thin black rule down the left edge, as in the reference page
rule = figure(width=2, height=479, x_range=Range1d(0, 1), y_range=Range1d(0, 1),
              output_backend="svg", toolbar_location=None,
              x_axis_location=None, y_axis_location=None, min_border=0)
rule.outline_line_color = None
rule.grid.visible = False
rule.background_fill_color = "#000000"
rule.border_fill_color = "#000000"

layout = row(Spacer(width=3, height=479, margin=(0, 0, 0, 0)), rule, column(*figs, spacing=0), spacing=0)

open("out.html", "w").write(file_html(layout, INLINE))
